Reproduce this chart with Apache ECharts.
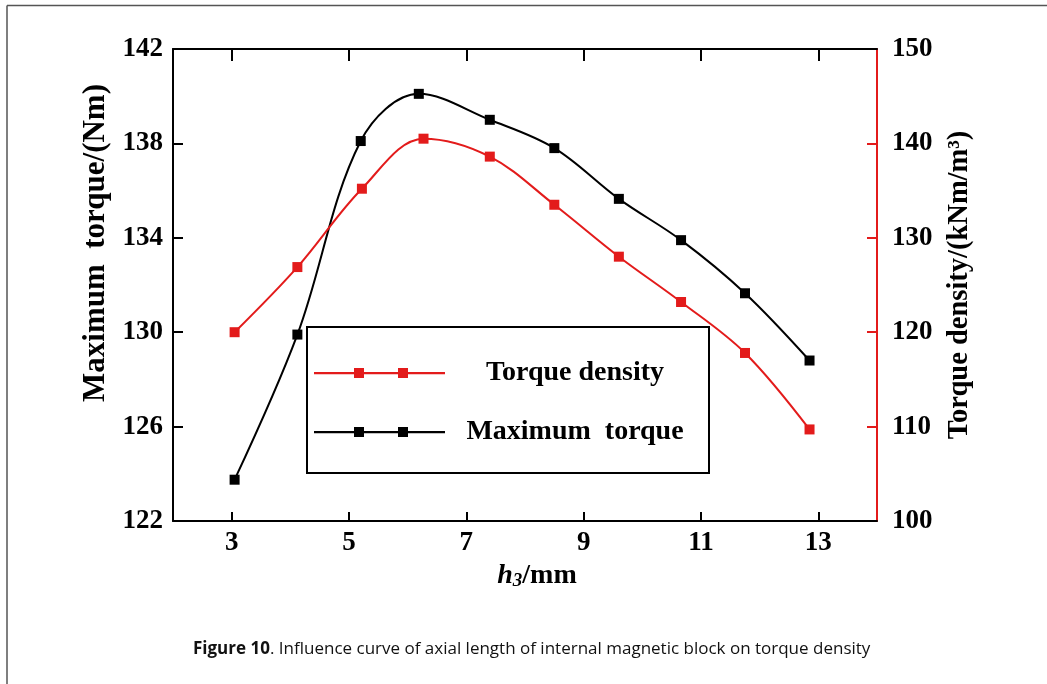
<!DOCTYPE html>
<html>
<head>
<meta charset="utf-8">
<script src="https://cdn.jsdelivr.net/npm/echarts@6/dist/echarts.min.js"></script>
<style>
html,body{margin:0;padding:0;background:#fff;}
#chart{width:1047px;height:684px;}
</style>
</head>
<body>
<div id="chart"></div>
<script>
// ---- data ----
const hTorque = [3.05, 4.12, 5.2, 6.19, 7.4, 8.5, 9.6, 10.66, 11.75, 12.85];
const maxTorque = [123.75, 129.9, 138.1, 140.1, 139.0, 137.8, 135.65, 133.9, 131.65, 128.8];
const hDensity = [3.05, 4.12, 5.22, 6.27, 7.4, 8.5, 9.6, 10.66, 11.75, 12.85];
const torqueDensity = [120.0, 126.9, 135.2, 140.5, 138.6, 133.5, 128.0, 123.2, 117.8, 109.7];
const xTicks = [3, 5, 7, 9, 11, 13];
const leftTicks = [122, 126, 130, 134, 138, 142];
const rightTicks = [100, 110, 120, 130, 140, 150];

const RED = '#e31b1b';
const SERIF = '"Times New Roman","Liberation Serif",serif';
const SANS = '"Open Sans","Noto Sans",sans-serif';

const chart = echarts.init(document.getElementById('chart'), null, {renderer: 'canvas'});

const legendIcon = 'path://M0 5L131 5L131 7.2L0 7.2Z M40 1L50 1L50 11L40 11Z M84 1L94 1L94 11L84 11Z';

chart.setOption({
  backgroundColor: '#fff',
  animation: false,
  grid: {left: 173, top: 49, right: 170, bottom: 163, containLabel: false},
  xAxis: [{
    type: 'value', min: 2, max: 14, position: 'bottom', z: 5,
    axisLine: {show: true, lineStyle: {color: '#000', width: 2}},
    axisTick: {show: true, inside: true, length: 9, lineStyle: {color: '#000', width: 2}, customValues: xTicks},
    axisLabel: {show: true, margin: 9, color: '#000', fontFamily: SERIF, fontWeight: 'bold', fontSize: 27, customValues: xTicks},
    splitLine: {show: false},
    name: '{i|h}{s|3}{n|/mm}', nameLocation: 'middle', nameGap: 37,
    nameTextStyle: {
      padding: [0, 0, 0, 24],
      rich: {
        i: {fontFamily: SERIF, fontWeight: 'bold', fontStyle: 'italic', fontSize: 28, color: '#000'},
        s: {fontFamily: SERIF, fontWeight: 'bold', fontStyle: 'italic', fontSize: 19, color: '#000', padding: [11, 0, 0, 0]},
        n: {fontFamily: SERIF, fontWeight: 'bold', fontSize: 28, color: '#000'}
      }
    }
  }, {
    type: 'value', min: 2, max: 14, position: 'top', z: 5,
    axisLine: {show: true, lineStyle: {color: '#000', width: 2}},
    axisTick: {show: true, inside: true, length: 12, lineStyle: {color: '#000', width: 2}, customValues: xTicks},
    axisLabel: {show: false},
    splitLine: {show: false}
  }],
  yAxis: [{
    type: 'value', min: 122, max: 142, interval: 4, position: 'left', z: 4,
    axisLine: {show: true, lineStyle: {color: '#000', width: 2}},
    axisTick: {show: true, inside: true, length: 10, lineStyle: {color: '#000', width: 2}},
    axisLabel: {margin: 10, color: '#000', fontFamily: SERIF, fontWeight: 'bold', fontSize: 27},
    splitLine: {show: false},
    name: 'Maximum  torque/(Nm)', nameLocation: 'middle', nameGap: 55,
    nameTextStyle: {color: '#000', fontFamily: SERIF, fontWeight: 'bold', fontSize: 31, padding: [0, 0, 0, 84]}
  }, {
    type: 'value', min: 100, max: 150, interval: 10, position: 'right', z: 4,
    axisLine: {show: true, lineStyle: {color: RED, width: 2}},
    axisTick: {show: true, inside: true, length: 10, lineStyle: {color: RED, width: 2}},
    axisLabel: {margin: 15, color: '#000', fontFamily: SERIF, fontWeight: 'bold', fontSize: 27},
    splitLine: {show: false},
    name: 'Torque density/(kNm/m³)', nameLocation: 'middle', nameGap: 68, nameRotate: 90,
    nameTextStyle: {color: '#000', fontFamily: SERIF, fontWeight: 'bold', fontSize: 28.5}
  }],
  legend: {
    orient: 'vertical', left: 307, top: 327,
    backgroundColor: '#fff',
    borderColor: '#000', borderWidth: 2, borderRadius: 0,
    padding: [32, 9, 27, 7],
    itemGap: 31,
    itemWidth: 131, itemHeight: 10,
    icon: legendIcon,
    data: ['Torque density', 'Maximum  torque'],
    formatter: function (n) { return '{a|' + n + '}'; },
    textStyle: {
      color: '#000',
      rich: {a: {width: 250, align: 'center', lineHeight: 28, fontFamily: SERIF, fontWeight: 'bold', fontSize: 28, color: '#000'}}
    }
  },
  series: [{
    name: 'Torque density', type: 'line', yAxisIndex: 1, xAxisIndex: 0,
    data: hDensity.map((x, i) => [x, torqueDensity[i]]),
    smooth: 0.35, symbol: 'rect', symbolSize: 10,
    lineStyle: {color: RED, width: 2},
    itemStyle: {color: RED},
    z: 3
  }, {
    name: 'Maximum  torque', type: 'line', yAxisIndex: 0, xAxisIndex: 0,
    data: hTorque.map((x, i) => [x, maxTorque[i]]),
    smooth: 0.35, symbol: 'rect', symbolSize: 10,
    lineStyle: {color: '#000', width: 2},
    itemStyle: {color: '#000'},
    z: 2
  }],
  graphic: [
    {type: 'line', shape: {x1: 7, y1: 5.5, x2: 1047, y2: 5.5}, style: {stroke: '#555', lineWidth: 1.5}, silent: true},
    {type: 'line', shape: {x1: 7, y1: 5.5, x2: 7, y2: 684}, style: {stroke: '#555', lineWidth: 1.5}, silent: true},
    {type: 'text', left: 193, top: 641, style: {
      text: '{b|Figure 10}{r|. Influence curve of axial length of internal magnetic block on torque density}',
      rich: {
        b: {fontFamily: SANS, fontWeight: 'bold', fontSize: 17, fill: '#111'},
        r: {fontFamily: SANS, fontSize: 17, fill: '#111'}
      }
    }}
  ]
});
</script>
</body>
</html>
